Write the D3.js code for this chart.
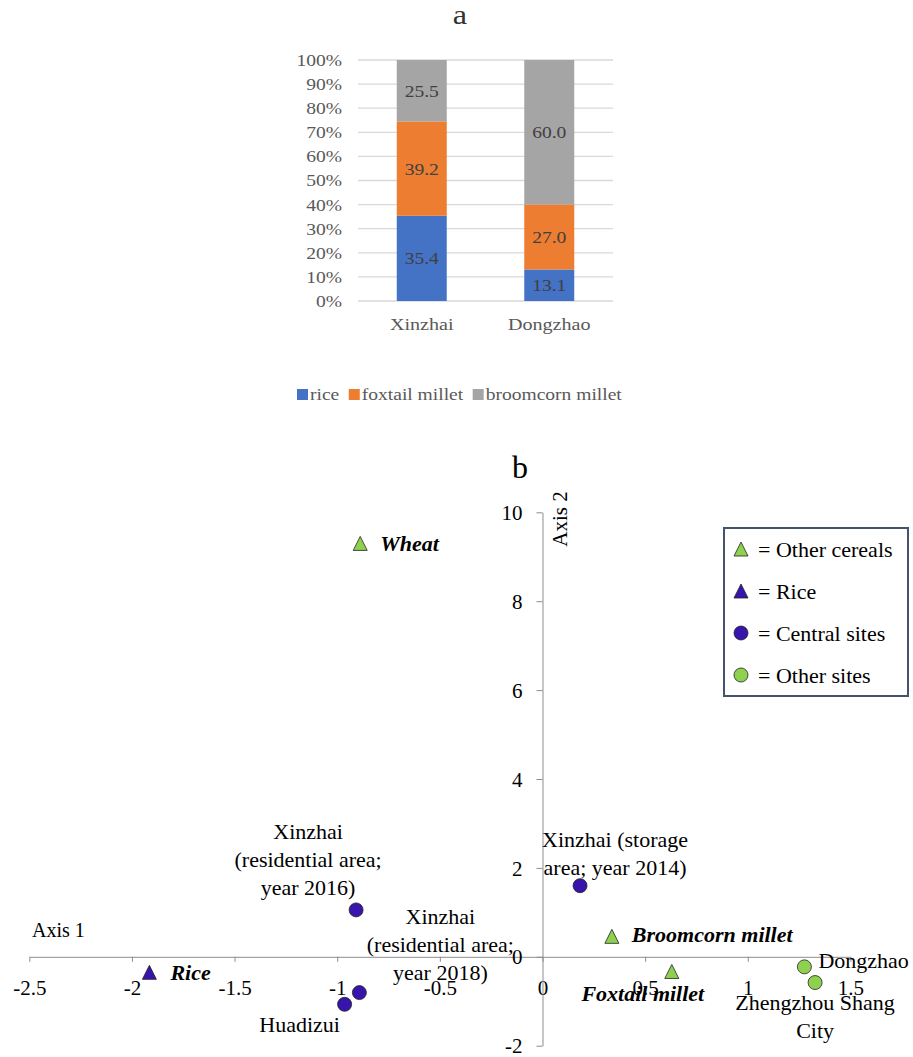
<!DOCTYPE html>
<html>
<head>
<meta charset="utf-8">
<script src="https://cdn.jsdelivr.net/npm/d3@7"></script>
<style>
  html, body { margin: 0; padding: 0; background: #fff; }
  svg { display: block; font-family: "Liberation Serif", "Times New Roman", serif; }
</style>
</head>
<body>
<svg id="chart" width="913" height="1057"></svg>
<script>
// ---------- Data: panel a ----------
const categories = ["Xinzhai", "Dongzhao"];
const seriesNames = ["rice", "foxtail millet", "broomcorn millet"];
const riceValues = [35.4, 13.1];
const foxtailValues = [39.2, 27.0];
const broomcornValues = [25.5, 60.0];
const percentTicks = [0, 0.1, 0.2, 0.3, 0.4, 0.5, 0.6, 0.7, 0.8, 0.9, 1.0];

// ---------- Data: panel b ----------
const cerealNames = ["Wheat", "Rice", "Broomcorn millet", "Foxtail millet"];
const cerealAxis1 = [-0.888, -1.915, 0.338, 0.630];
const cerealAxis2 = [9.30, -0.35, 0.46, -0.33];
const cerealGroup = ["other", "rice", "other", "other"];

const siteLabels = [
  ["Xinzhai", "(residential area;", "year 2016)"],
  ["Xinzhai (storage", "area; year 2014)"],
  ["Xinzhai", "(residential area;", "year 2018)"],
  ["Huadizui"],
  ["Dongzhao"],
  ["Zhengzhou Shang", "City"]
];
const siteAxis1 = [-0.908, 0.183, -0.892, -0.964, 1.276, 1.328];
const siteAxis2 = [1.055, 1.60, -0.805, -1.069, -0.226, -0.579];
const siteGroup = ["central", "central", "central", "central", "other", "other"];

const xTicks = [-2.5, -2, -1.5, -1, -0.5, 0, 0.5, 1, 1.5];
const yTicks = [-2, 0, 2, 4, 6, 8, 10];
const legendLabels = ["= Other cereals", "= Rice", "= Central sites", "= Other sites"];

// ---------- Styles ----------
const barColors = ["#4472C4", "#ED7D31", "#A5A5A5"];
const GREEN = "#8FD14F";
const BLUE = "#3714AC";
const STRETCH = 1.15;

const svg = d3.select("#chart");

// ================= Panel a =================
const gA = svg.append("g");
const yA = d3.scaleLinear([0, 1], [301, 60]);
const xA = d3.scaleBand(categories, [358, 613]).paddingInner(0.608).paddingOuter(0.304);

gA.append("text").attr("transform", `translate(460,24) scale(${STRETCH},1)`)
  .attr("text-anchor", "middle").attr("font-size", 28).attr("fill", "#333").text("a");

// gridlines
gA.selectAll("line.grid").data(percentTicks).join("line")
  .attr("x1", 358).attr("x2", 613)
  .attr("y1", d => yA(d)).attr("y2", d => yA(d))
  .attr("stroke", "#D9D9D9").attr("stroke-width", 1.3);

// tick labels
gA.selectAll("text.ytick").data(percentTicks).join("text")
  .attr("transform", d => `translate(342,${yA(d)}) scale(${STRETCH},1)`)
  .attr("text-anchor", "end").attr("dy", "0.35em")
  .attr("font-size", 17).attr("fill", "#595959")
  .text(d => d3.format(".0%")(d));

const tableA = categories.map((c, i) => ({
  cat: c, "rice": riceValues[i], "foxtail millet": foxtailValues[i], "broomcorn millet": broomcornValues[i]
}));
const stackA = d3.stack().keys(seriesNames).offset(d3.stackOffsetExpand)(tableA);

stackA.forEach((layer, li) => {
  gA.selectAll(`rect.s${li}`).data(layer).join("rect")
    .attr("x", d => xA(d.data.cat)).attr("width", xA.bandwidth())
    .attr("y", d => yA(d[1])).attr("height", d => yA(d[0]) - yA(d[1]))
    .attr("fill", barColors[li]);
  gA.selectAll(`text.l${li}`).data(layer).join("text")
    .attr("transform", d => `translate(${xA(d.data.cat) + xA.bandwidth() / 2},${(yA(d[0]) + yA(d[1])) / 2}) scale(${STRETCH},1)`)
    .attr("text-anchor", "middle").attr("dy", "0.35em")
    .attr("font-size", 17).attr("fill", "#404040")
    .text(d => d.data[seriesNames[li]].toFixed(1));
});

// category labels
gA.selectAll("text.cat").data(categories).join("text")
  .attr("transform", d => `translate(${xA(d) + xA.bandwidth() / 2},330) scale(${STRETCH},1)`)
  .attr("text-anchor", "middle").attr("font-size", 17.5).attr("fill", "#595959")
  .text(d => d);

// legend a
let lx = 297;
seriesNames.forEach((s, i) => {
  gA.append("rect").attr("x", lx).attr("y", 389).attr("width", 11).attr("height", 11).attr("fill", barColors[i]);
  const t = gA.append("text").attr("transform", `translate(${lx + 13},400) scale(${STRETCH},1)`)
    .attr("font-size", 17).attr("fill", "#595959").text(s);
  lx += 13 + t.node().getComputedTextLength() * STRETCH + 9.5;
});

// ================= Panel b =================
const gB = svg.append("g");
const xB = d3.scaleLinear([-2.5, 1.5], [29.3, 850.4]);
const yB = d3.scaleLinear([-2, 10], [1045.7, 512.3]);
const AXIS = "#8C8C8C";

gB.append("text").attr("x", 520).attr("y", 478).attr("text-anchor", "middle")
  .attr("font-size", 32).attr("fill", "#000").text("b");

// x axis
const xAxisG = gB.append("g").attr("transform", `translate(0,${yB(0)})`)
  .call(d3.axisBottom(xB).tickValues(xTicks).tickSize(5).tickSizeOuter(0).tickFormat(d => String(d)));
xAxisG.select(".domain").attr("stroke", AXIS);
xAxisG.selectAll(".tick line").attr("stroke", AXIS);
xAxisG.selectAll(".tick text").attr("y", 38).attr("dy", 0)
  .attr("font-size", 21).attr("fill", "#000").attr("font-family", "Liberation Serif");

// y axis
const yAxisG = gB.append("g").attr("transform", `translate(${xB(0)},0)`)
  .call(d3.axisLeft(yB).tickValues(yTicks).tickSize(6).tickSizeOuter(0).tickFormat(d => String(d)));
yAxisG.select(".domain").attr("stroke", AXIS);
yAxisG.selectAll(".tick line").attr("stroke", AXIS);
yAxisG.selectAll(".tick text").attr("x", -20).attr("dy", "0.34em")
  .attr("font-size", 21).attr("fill", "#000").attr("font-family", "Liberation Serif");

// axis titles
gB.append("text").attr("x", 32).attr("y", 937).attr("font-size", 20).attr("fill", "#000").text("Axis 1");
gB.append("text").attr("transform", "translate(567,519) rotate(-90)").attr("text-anchor", "middle")
  .attr("font-size", 21).attr("fill", "#000").text("Axis 2");

const triPath = "M0,-7L7,7L-7,7Z";

// site points
const sites = siteLabels.map((l, i) => ({ lines: l, x: siteAxis1[i], y: siteAxis2[i], g: siteGroup[i] }));
gB.selectAll("circle.site").data(sites).join("circle")
  .attr("cx", d => xB(d.x)).attr("cy", d => yB(d.y)).attr("r", 7)
  .attr("fill", d => d.g === "central" ? BLUE : GREEN)
  .attr("stroke", "#222").attr("stroke-width", 0.8);

// site label layout (pixel offsets from the point)
const siteLabelLayout = [
  { dx: -48, dy: -70.5, anchor: "middle" },
  { dx: 35, dy: -38.7, anchor: "middle" },
  { dx: 81, dy: -69, anchor: "middle" },
  { dx: -45, dy: 27.7, anchor: "middle" },
  { dx: 14, dy: 1.5, anchor: "start" },
  { dx: 0, dy: 27.7, anchor: "middle" }
];
sites.forEach((d, i) => {
  const L = siteLabelLayout[i];
  const t = gB.append("text").attr("font-size", 22).attr("fill", "#000").attr("text-anchor", L.anchor);
  d.lines.forEach((line, k) => {
    t.append("tspan").attr("x", xB(d.x) + L.dx).attr("y", yB(d.y) + L.dy + k * 28).text(line);
  });
});

// cereal points
const cereals = cerealNames.map((n, i) => ({ name: n, x: cerealAxis1[i], y: cerealAxis2[i], g: cerealGroup[i] }));
gB.selectAll("path.cereal").data(cereals).join("path")
  .attr("d", triPath)
  .attr("transform", d => `translate(${xB(d.x)},${yB(d.y)})`)
  .attr("fill", d => d.g === "rice" ? BLUE : GREEN)
  .attr("stroke", "#222").attr("stroke-width", 0.8);

const cerealLabelLayout = [
  { dx: 20, dy: 8, anchor: "start" },
  { dx: 21, dy: 7.5, anchor: "start" },
  { dx: 20, dy: 6, anchor: "start" },
  { dx: -29, dy: 30, anchor: "middle" }
];
cereals.forEach((d, i) => {
  const L = cerealLabelLayout[i];
  gB.append("text").attr("x", xB(d.x) + L.dx).attr("y", yB(d.y) + L.dy)
    .attr("text-anchor", L.anchor).attr("font-size", 22)
    .attr("font-weight", "bold").attr("font-style", "italic").attr("fill", "#000")
    .text(d.name);
});

// legend b
const lg = gB.append("g");
lg.append("rect").attr("x", 724).attr("y", 528).attr("width", 184).attr("height", 168)
  .attr("fill", "#fff").attr("stroke", "#44546A").attr("stroke-width", 2);
const legendMarks = [
  { shape: "tri", fill: GREEN }, { shape: "tri", fill: BLUE },
  { shape: "circle", fill: BLUE }, { shape: "circle", fill: GREEN }
];
legendLabels.forEach((lab, i) => {
  const cy = 549 + i * 42;
  if (legendMarks[i].shape === "tri") {
    lg.append("path").attr("d", triPath).attr("transform", `translate(741,${cy})`)
      .attr("fill", legendMarks[i].fill).attr("stroke", "#222").attr("stroke-width", 0.8);
  } else {
    lg.append("circle").attr("cx", 741).attr("cy", cy).attr("r", 7)
      .attr("fill", legendMarks[i].fill).attr("stroke", "#222").attr("stroke-width", 0.8);
  }
  lg.append("text").attr("x", 758).attr("y", cy + 8).attr("font-size", 22).attr("fill", "#000").text(lab);
});
</script>
</body>
</html>
